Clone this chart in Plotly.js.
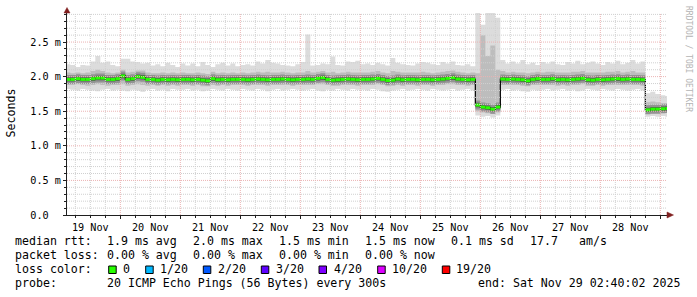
<!DOCTYPE html>
<html><head><meta charset="utf-8">
<script src="https://cdn.plot.ly/plotly-3.0.1.min.js"></script>
<style>html,body{margin:0;padding:0;background:#fff;} #chart{width:697px;height:297px;}</style>
</head><body><div id="chart"></div>
<script>
// 2-hour bins (start of bin), Nov 19 02:00 .. Nov 29 04:00
const slots = [
"11-19 02","11-19 04","11-19 06","11-19 08","11-19 10","11-19 12","11-19 14","11-19 16","11-19 18","11-19 20","11-19 22",
"11-20 00","11-20 02","11-20 04","11-20 06","11-20 08","11-20 10","11-20 12","11-20 14","11-20 16","11-20 18","11-20 20","11-20 22",
"11-21 00","11-21 02","11-21 04","11-21 06","11-21 08","11-21 10","11-21 12","11-21 14","11-21 16","11-21 18","11-21 20","11-21 22",
"11-22 00","11-22 02","11-22 04","11-22 06","11-22 08","11-22 10","11-22 12","11-22 14","11-22 16","11-22 18","11-22 20","11-22 22",
"11-23 00","11-23 02","11-23 04","11-23 06","11-23 08","11-23 10","11-23 12","11-23 14","11-23 16","11-23 18","11-23 20","11-23 22",
"11-24 00","11-24 02","11-24 04","11-24 06","11-24 08","11-24 10","11-24 12","11-24 14","11-24 16","11-24 18","11-24 20","11-24 22",
"11-25 00","11-25 02","11-25 04","11-25 06","11-25 08","11-25 10","11-25 12","11-25 14","11-25 16","11-25 18","11-25 20","11-25 22",
"11-26 00","11-26 02","11-26 04","11-26 06","11-26 08","11-26 10","11-26 12","11-26 14","11-26 16","11-26 18","11-26 20","11-26 22",
"11-27 00","11-27 02","11-27 04","11-27 06","11-27 08","11-27 10","11-27 12","11-27 14","11-27 16","11-27 18","11-27 20","11-27 22",
"11-28 00","11-28 02","11-28 04","11-28 06","11-28 08","11-28 10","11-28 12","11-28 14","11-28 16","11-28 18","11-28 20","11-28 22",
"11-29 00","11-29 02","11-29 04"
];

// median RTT (ms)
const med = [
1.96,1.96,1.97,1.96,1.96,1.97,1.98,1.98,1.96,1.96,1.97,
2.01,1.96,1.97,2.00,1.99,1.96,1.96,1.95,1.96,1.955,1.96,1.955,
1.96,1.96,1.955,1.96,1.95,1.94,1.97,1.955,1.96,1.955,1.96,1.96,
1.96,1.955,1.96,1.965,1.96,1.955,1.96,1.96,1.965,1.96,1.955,1.96,
1.96,1.965,1.96,1.975,1.985,1.96,1.95,1.955,1.96,1.965,1.96,1.955,
1.96,1.96,1.965,1.975,1.96,1.945,1.95,1.965,1.955,1.96,1.96,1.955,
1.96,1.96,1.955,1.96,1.965,1.975,1.985,1.965,1.96,1.955,1.96,1.59,
1.56,1.55,1.53,1.56,1.965,1.96,1.965,1.96,1.955,1.94,1.96,1.97,
1.96,1.96,1.97,1.955,1.96,1.955,1.96,1.965,1.975,1.955,1.95,1.96,
1.955,1.96,1.965,1.97,1.96,1.965,1.96,1.96,1.955,1.52,1.53,1.53,
1.535,1.54,1.54
];
// slowest ping
const hi = [
2.18,2.17,2.14,2.17,2.16,2.22,2.30,2.20,2.22,2.17,2.15,
2.26,2.26,2.22,2.21,2.19,2.20,2.16,2.18,2.15,2.20,2.17,2.14,
2.19,2.16,2.19,2.15,2.21,2.17,2.14,2.18,2.20,2.16,2.19,2.15,
2.17,2.18,2.16,2.22,2.19,2.24,2.20,2.19,2.17,2.16,2.15,2.18,
2.21,2.61,2.16,2.17,2.19,2.18,2.29,2.17,2.16,2.22,2.21,2.23,
2.18,2.19,2.17,2.20,2.18,2.16,2.27,2.20,2.18,2.17,2.16,2.19,
2.21,2.20,2.18,2.17,2.21,2.19,2.22,2.17,2.16,2.18,2.15,3.00,
2.75,3.00,3.00,2.85,2.24,2.19,2.22,2.19,2.24,2.18,2.20,2.17,
2.21,2.19,2.22,2.18,2.17,2.21,2.19,2.23,2.18,2.20,2.22,2.19,
2.17,2.21,2.19,2.23,2.18,2.20,2.24,2.19,2.22,1.76,1.78,1.75,
1.73,1.72,1.72
];
// fastest ping
const lo = [
1.82,1.81,1.80,1.82,1.81,1.80,1.79,1.81,1.82,1.80,1.81,
1.80,1.79,1.81,1.80,1.78,1.81,1.82,1.80,1.81,1.79,1.82,1.81,
1.81,1.82,1.80,1.81,1.79,1.80,1.82,1.81,1.80,1.82,1.81,1.80,
1.82,1.81,1.80,1.82,1.81,1.79,1.81,1.82,1.80,1.81,1.82,1.81,
1.80,1.81,1.82,1.80,1.79,1.81,1.80,1.82,1.81,1.80,1.82,1.81,
1.81,1.80,1.82,1.81,1.79,1.78,1.80,1.81,1.82,1.80,1.81,1.82,
1.81,1.80,1.82,1.81,1.80,1.81,1.82,1.80,1.81,1.82,1.80,1.44,
1.42,1.43,1.41,1.44,1.81,1.82,1.80,1.81,1.79,1.78,1.81,1.80,
1.81,1.82,1.80,1.81,1.82,1.80,1.81,1.79,1.80,1.82,1.81,1.80,
1.82,1.81,1.80,1.82,1.81,1.80,1.81,1.82,1.80,1.42,1.43,1.42,
1.43,1.42,1.42
];
// lower / upper edge of the denser part of the smoke
const q1 = [
1.88,1.88,1.89,1.88,1.87,1.88,1.89,1.88,1.87,1.88,1.88,
1.89,1.87,1.88,1.89,1.88,1.87,1.88,1.87,1.88,1.87,1.88,1.87,
1.88,1.88,1.87,1.88,1.86,1.86,1.88,1.87,1.88,1.87,1.88,1.88,
1.88,1.87,1.88,1.88,1.88,1.87,1.88,1.88,1.88,1.88,1.87,1.88,
1.88,1.88,1.88,1.89,1.89,1.88,1.87,1.87,1.88,1.88,1.88,1.87,
1.88,1.88,1.88,1.89,1.88,1.86,1.87,1.88,1.87,1.88,1.88,1.87,
1.88,1.88,1.87,1.88,1.88,1.89,1.89,1.88,1.88,1.87,1.88,1.50,
1.48,1.47,1.46,1.48,1.88,1.88,1.88,1.88,1.87,1.86,1.88,1.88,
1.88,1.88,1.88,1.87,1.88,1.87,1.88,1.88,1.89,1.87,1.87,1.88,
1.87,1.88,1.88,1.88,1.88,1.88,1.88,1.88,1.87,1.47,1.47,1.48,
1.48,1.48,1.48
];
const q3 = [
2.06,2.05,2.06,2.05,2.06,2.08,2.10,2.08,2.06,2.05,2.06,
2.10,2.06,2.07,2.09,2.09,2.06,2.05,2.05,2.06,2.05,2.06,2.05,
2.06,2.05,2.05,2.06,2.05,2.04,2.07,2.05,2.06,2.05,2.06,2.05,
2.06,2.05,2.06,2.07,2.06,2.07,2.06,2.06,2.07,2.06,2.05,2.06,
2.06,2.08,2.06,2.07,2.08,2.06,2.07,2.05,2.06,2.07,2.06,2.06,
2.06,2.06,2.07,2.08,2.06,2.05,2.08,2.07,2.06,2.06,2.06,2.06,
2.07,2.06,2.05,2.06,2.07,2.08,2.09,2.07,2.06,2.05,2.06,2.05,
2.60,2.30,2.45,2.10,2.08,2.06,2.07,2.06,2.06,2.05,2.06,2.07,
2.06,2.07,2.07,2.06,2.06,2.06,2.07,2.07,2.08,2.06,2.06,2.06,
2.06,2.07,2.07,2.08,2.06,2.07,2.08,2.06,2.06,1.63,1.64,1.63,
1.62,1.62,1.62
];

const yTickVals = [0, 0.5, 1.0, 1.5, 2.0, 2.5];
const yTickText = ["0.0\u00a0\u00a0", "0.5 m", "1.0 m", "1.5 m", "2.0 m", "2.5 m"];

const legendRows = [
  {y: 241.3, items: [["median rtt:",16],["1.9 ms avg",107.3],["2.0 ms max",193.3],["1.5 ms min",279.3],["1.5 ms now",366],["0.1 ms sd",451.7],["17.7",530.7],["am/s",579.3]]},
  {y: 255.0, items: [["packet loss:",16],["0.00 % avg",107.3],["0.00 % max",193.3],["0.00 % min",279.3],["0.00 % now",366]]},
  {y: 269.2, items: [["loss color:",16],["0",123.3],["1/20",160.7],["2/20",218.3],["3/20",276.7],["4/20",334.3],["10/20",392.3],["19/20",456.7]]},
  {y: 283.3, items: [["probe:",16],["20 ICMP Echo Pings (56 Bytes) every 300s",107.3],["end: Sat Nov 29 02:40:02 2025",478.3]]}
];
const lossColors = ["#26ff00","#00b8ff","#0059ff","#5e00ff","#7e00ff","#dd00ff","#ff0000"];
const lossSwatchX = [108.7,145.7,203.3,261.3,319,377.7,442.3];

const times = slots.map(s => '2025-' + s + ':00');
const MONO = 'DejaVu Sans Mono';
const X_RANGE = ['2025-11-19 02:40', '2025-11-29 02:40'];
const Y_RANGE = [0, 2.92];

// plot area in pixels
const L = 67, T = 13, W = 600, H = 202;
const px = x => (x - L) / W;
const py = y => (T + H - y) / H;

function band(lower, upper, color) {
  return [
    {x: times, y: lower, type: 'scatter', mode: 'lines', line: {width: 0, shape: 'hv'}, hoverinfo: 'skip', showlegend: false},
    {x: times, y: upper, type: 'scatter', mode: 'lines', line: {width: 0, shape: 'hv'}, fill: 'tonexty', fillcolor: color, hoverinfo: 'skip', showlegend: false}
  ];
}
const medLo1 = med.map(v => v - 0.065), medHi1 = med.map(v => v + 0.065);
const medLo2 = med.map(v => v - 0.032), medHi2 = med.map(v => v + 0.032);

// loss-coloured median: one horizontal piece per bin (no vertical joins)
const gx = [], gy = [];
for (let i = 0; i < times.length - 1; i++) {
  gx.push(times[i], times[i + 1], null);
  gy.push(med[i], med[i], null);
}

const traces = [
  ...band(lo, hi, '#dcdcdc'),
  ...band(q1, q3, '#bdbdbd'),
  ...band(medLo1, medHi1, '#939393'),
  ...band(medLo2, medHi2, '#5a5a5a'),
  {x: times, y: med, type: 'scatter', mode: 'lines', line: {width: 1.2, color: '#000', shape: 'hv'}, hoverinfo: 'skip', showlegend: false},
  {x: gx, y: gy, type: 'scatter', mode: 'lines', connectgaps: false, line: {width: 3, color: lossColors[0]}, hoverinfo: 'skip', showlegend: false}
];

const annotations = [];
const base = {xref: 'paper', yref: 'paper', showarrow: false, borderpad: 0, borderwidth: 0};
annotations.push(Object.assign({}, base, {x: px(10), y: py(113.5), text: 'Seconds', textangle: -90, xanchor: 'center', yanchor: 'middle', font: {family: MONO, size: 11.6, color: '#000'}}));
annotations.push(Object.assign({}, base, {x: px(688), y: py(59), text: 'RRDTOOL / TOBI OETIKER', textangle: 90, xanchor: 'center', yanchor: 'middle', font: {family: MONO, size: 8, color: '#b4b4b4'}}));
legendRows.forEach(r => r.items.forEach(([t, x]) => {
  annotations.push(Object.assign({}, base, {x: px(x - 0.6), y: py(r.y), text: t, xanchor: 'left', yanchor: 'middle', font: {family: MONO, size: 11.6, color: '#000'}}));
}));

const shapes = [];
// grid drawn on top of the smoke, as rrdtool does
const MINOR_GRID = '#d0d0d0', MAJOR_GRID = '#ebb3b3', GRID_DASH = '1px,1px';
for (let d = 19; d <= 29; d++) {
  for (const h of [0, 6, 12, 18]) {
    const t = `2025-11-${d} ${String(h).padStart(2, '0')}:00`;
    if (t <= X_RANGE[0] || t >= X_RANGE[1]) continue;
    shapes.push({type: 'line', xref: 'x', yref: 'paper', x0: t, x1: t, y0: 0, y1: 1, layer: 'above',
                 line: {color: h === 0 ? MAJOR_GRID : MINOR_GRID, width: 1, dash: GRID_DASH}});
  }
}
for (let k = 1; k <= 29; k++) {
  const v = k / 10;
  if (v >= Y_RANGE[1]) continue;
  shapes.push({type: 'line', xref: 'paper', yref: 'y', x0: 0, x1: 1, y0: v, y1: v, layer: 'above',
               line: {color: k % 5 === 0 ? MAJOR_GRID : MINOR_GRID, width: 1, dash: GRID_DASH}});
}
lossSwatchX.forEach((x, i) => {
  shapes.push({type: 'rect', xref: 'paper', yref: 'paper', x0: px(x), x1: px(x + 7.5), y0: py(273.5), y1: py(266), fillcolor: lossColors[i], line: {color: '#000', width: 1}});
});
const arrowCol = '#801f1f';
shapes.push({type: 'path', xref: 'paper', yref: 'paper', path: `M ${px(64)} ${py(13)} L ${px(70)} ${py(13)} L ${px(67)} ${py(7.5)} Z`, fillcolor: arrowCol, line: {color: arrowCol, width: 0.5}});
shapes.push({type: 'path', xref: 'paper', yref: 'paper', path: `M ${px(667)} ${py(212)} L ${px(667)} ${py(218)} L ${px(673.5)} ${py(215)} Z`, fillcolor: arrowCol, line: {color: arrowCol, width: 0.5}});

const layout = {
  width: 697, height: 297,
  margin: {l: L, r: 697 - L - W, t: T, b: 297 - T - H, pad: 0},
  paper_bgcolor: '#fff', plot_bgcolor: '#fff',
  showlegend: false, hovermode: false,
  xaxis: {
    type: 'date', range: X_RANGE,
    tick0: '2025-11-19 00:00', dtick: 86400000, ticklabelmode: 'period', tickformat: '%d %b',
    showgrid: false,
    minor: {tick0: '2025-11-19 00:00', dtick: 21600000, showgrid: false, ticks: 'outside', ticklen: 2, tickcolor: '#1f1f1f'},
    showline: true, linecolor: '#1f1f1f', linewidth: 1, layer: 'above traces',
    ticks: 'outside', ticklen: 3, tickcolor: '#1f1f1f',
    tickfont: {family: MONO, size: 10.2, color: '#000'},
    zeroline: false, fixedrange: true
  },
  yaxis: {
    range: Y_RANGE, tickmode: 'array', tickvals: yTickVals, ticktext: yTickText,
    showgrid: false,
    minor: {tick0: 0, dtick: 0.1, showgrid: false, ticks: 'outside', ticklen: 2, tickcolor: '#1f1f1f'},
    showline: true, linecolor: '#1f1f1f', linewidth: 1, layer: 'above traces',
    ticks: 'outside', ticklen: 3, tickcolor: '#1f1f1f',
    tickfont: {family: MONO, size: 10.2, color: '#000'},
    zeroline: false, fixedrange: true
  },
  annotations, shapes
};

Plotly.newPlot('chart', traces, layout, {staticPlot: true, displayModeBar: false});
</script>
</body></html>
